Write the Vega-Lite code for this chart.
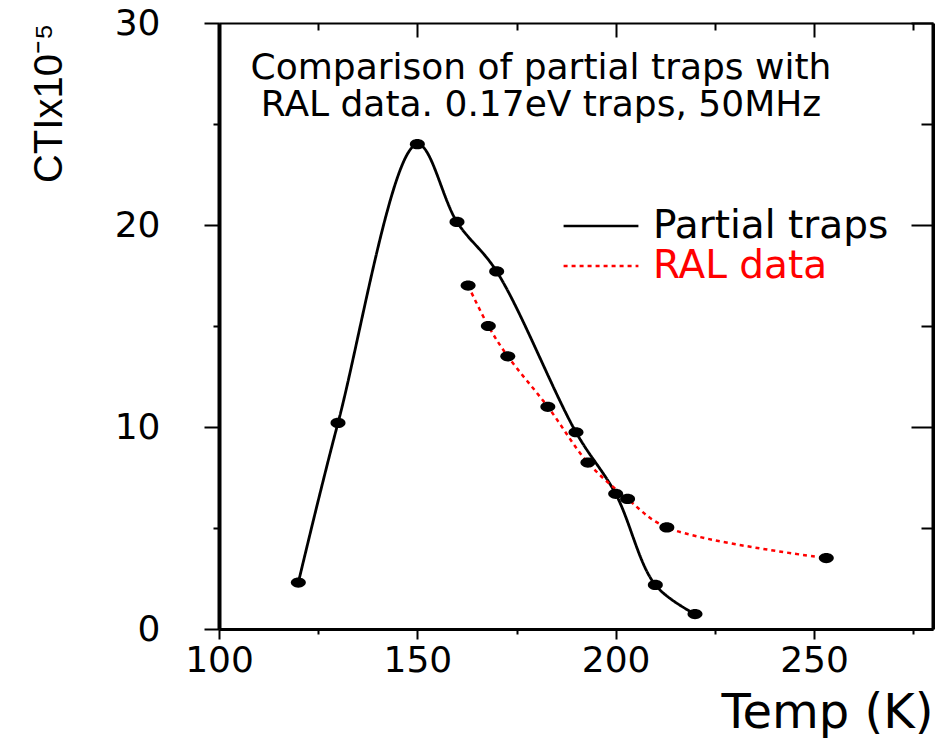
{
  "$schema": "https://vega.github.io/schema/vega-lite/v6.json",
  "width": 714,
  "height": 606,
  "autosize": {"type": "pad"},
  "padding": {"left": 29, "top": 5, "right": 3, "bottom": 3},
  "background": "white",
  "config": {"view": {"stroke": null}, "font": "DejaVu Sans"},
  "title": {
    "text": ["Comparison of partial traps with", "RAL data. 0.17eV traps, 50MHz"],
    "fontSize": 36, "fontWeight": "normal", "font": "DejaVu Sans", "color": "black",
    "anchor": "middle", "frame": "group", "orient": "top", "offset": 0,
    "dy": 119, "dx": -35, "lineHeight": 37
  },
  "datasets": {
    "pts": [
      {"series": "Partial traps", "temp": 120, "cti": 2.3},
      {"series": "Partial traps", "temp": 130, "cti": 10.2},
      {"series": "Partial traps", "temp": 150, "cti": 24.0},
      {"series": "Partial traps", "temp": 160, "cti": 20.15},
      {"series": "Partial traps", "temp": 170, "cti": 17.7},
      {"series": "Partial traps", "temp": 190, "cti": 9.74},
      {"series": "Partial traps", "temp": 200, "cti": 6.69},
      {"series": "Partial traps", "temp": 210, "cti": 2.18},
      {"series": "Partial traps", "temp": 220, "cti": 0.74},
      {"series": "RAL data", "temp": 162.8, "cti": 17.0},
      {"series": "RAL data", "temp": 167.9, "cti": 15.0},
      {"series": "RAL data", "temp": 172.8, "cti": 13.5},
      {"series": "RAL data", "temp": 182.9, "cti": 11.0},
      {"series": "RAL data", "temp": 193.0, "cti": 8.24},
      {"series": "RAL data", "temp": 203.0, "cti": 6.44},
      {"series": "RAL data", "temp": 212.9, "cti": 5.03},
      {"series": "RAL data", "temp": 253.1, "cti": 3.51}
    ]
  },
  "data": {"name": "pts"},
  "layer": [
    {
      "transform": [{"filter": "datum.series === 'Partial traps'"}],
      "mark": {"type": "line", "interpolate": "catmull-rom", "strokeWidth": 2.8},
      "encoding": {
        "x": {"field": "temp", "type": "quantitative",
          "scale": {"domain": [100, 280], "nice": false, "zero": false},
          "axis": {"orient": "bottom", "values": [100, 125, 150, 175, 200, 225, 250, 275],
            "labelExpr": "datum.value % 50 === 0 ? datum.label : ''",
            "tickSize": {"condition": {"test": "datum.value % 50 === 0", "value": 10}, "value": 5},
            "grid": false, "domainColor": "black", "domainWidth": 3, "tickColor": "black", "tickWidth": 2,
            "labelFontSize": 36, "labelFont": "DejaVu Sans", "labelColor": "black", "labelPadding": 4,
            "labelOverlap": false, "labelFlush": false, "labelBound": false,
            "title": "Temp (K)", "titleFontSize": 48, "titleFont": "DejaVu Sans", "titleFontWeight": "normal",
            "titleColor": "black", "titleAnchor": "end", "titlePadding": 11}},
        "y": {"field": "cti", "type": "quantitative",
          "scale": {"domain": [0, 30], "nice": false},
          "axis": {"orient": "left", "values": [0, 5, 10, 15, 20, 25, 30],
            "labelExpr": "datum.value % 10 === 0 ? datum.label : ''",
            "tickSize": {"condition": {"test": "datum.value % 10 === 0", "value": 15}, "value": 6},
            "grid": false, "domainColor": "black", "domainWidth": 4, "tickColor": "black", "tickWidth": 2,
            "labelFontSize": 36, "labelFont": "DejaVu Sans", "labelColor": "black", "labelPadding": 44,
            "labelOverlap": false, "labelFlush": false, "labelBound": false,
            "title": "CTIx10⁻⁵", "titleFontSize": 40, "titleFont": "Liberation Sans", "titleFontWeight": "normal",
            "titleColor": "black", "titleAnchor": "end", "titlePadding": 45}},
        "color": {"field": "series", "type": "nominal",
          "scale": {"domain": ["Partial traps", "RAL data"], "range": ["#000000", "#ff0000"]},
          "legend": {"orient": "none", "legendX": 343, "legendY": 183, "title": null,
            "symbolType": "stroke", "symbolSize": 5600, "symbolStrokeWidth": 2.5,
            "labelFontSize": 39, "labelFont": "DejaVu Sans", "labelOffset": 13, "rowPadding": 0,
            "clipHeight": 40, "labelLimit": 400,
            "encoding": {"labels": {"fill": {"condition": {"test": "datum.value === 'RAL data'", "value": "#ff0000"}, "value": "#000000"}}}}},
        "strokeDash": {"field": "series", "type": "nominal",
          "scale": {"domain": ["Partial traps", "RAL data"], "range": [[1, 0], [4, 4]]}}
      }
    },
    {
      "transform": [{"filter": "datum.series === 'RAL data'"}],
      "mark": {"type": "line", "interpolate": "catmull-rom", "strokeWidth": 2.5},
      "encoding": {
        "x": {"field": "temp", "type": "quantitative",
          "axis": {"orient": "top", "values": [100, 125, 150, 175, 200, 225, 250, 275], "labels": false,
            "tickSize": {"condition": {"test": "datum.value % 50 === 0", "value": -14}, "value": -7},
            "grid": false, "domainColor": "black", "domainWidth": 2, "tickColor": "black", "tickWidth": 2, "title": null}},
        "y": {"field": "cti", "type": "quantitative",
          "axis": {"orient": "right", "values": [0, 5, 10, 15, 20, 25, 30], "labels": false,
            "tickSize": {"condition": {"test": "datum.value % 10 === 0", "value": -22}, "value": -12},
            "grid": false, "domainColor": "black", "domainWidth": 4, "tickColor": "black", "tickWidth": 2, "title": null}},
        "color": {"field": "series", "type": "nominal"},
        "strokeDash": {"field": "series", "type": "nominal"}
      }
    },
    {
      "mark": {"type": "point", "shape": "M-1,0A1,0.68,0,1,0,1,0A1,0.68,0,1,0,-1,0Z", "filled": true, "size": 225, "color": "black", "opacity": 1},
      "encoding": {
        "x": {"field": "temp", "type": "quantitative", "axis": null},
        "y": {"field": "cti", "type": "quantitative", "axis": null}
      }
    }
  ],
  "resolve": {"axis": {"x": "independent", "y": "independent"}}
}
